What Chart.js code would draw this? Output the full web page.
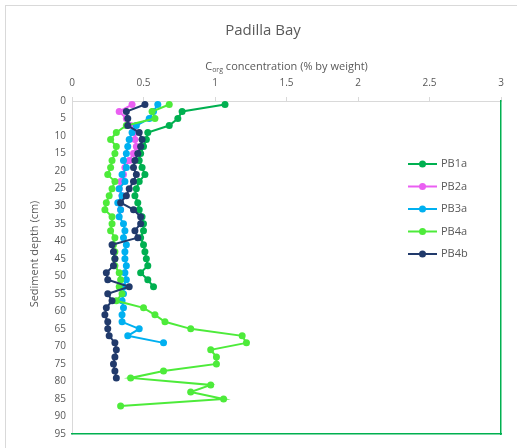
<!DOCTYPE html>
<html>
<head>
<meta charset="utf-8">
<script src="https://cdn.jsdelivr.net/npm/chart.js@4"></script>
<style>
  body { margin: 0; overflow: hidden; background: #fff; }
  #frame { position: absolute; left: 5px; top: 5px; width: 600px; height: 600px; border: 1px solid #d9d9d9; }
  #chart { position: absolute; left: 0; top: 0; }
</style>
</head>
<body>
<div id="frame"></div>
<canvas id="chart" width="517" height="448"></canvas>
<script>
// depth of each sample (cm), shared by all cores
const depths = [1, 3, 5, 7, 9, 11, 13, 15, 17, 19, 21, 23, 25, 27, 29, 31, 33, 35, 37, 39,
    41, 43, 45, 47, 49, 51, 53, 55, 57, 59, 61, 63, 65, 67, 69, 71, 73, 75, 77, 79,
    81, 83, 85, 87];

const seriesNames = ["PB1a", "PB2a", "PB3a", "PB4a", "PB4b"];
const seriesColors = ["#00B050", "#EA5FF2", "#00B0F0", "#4DEB3A", "#213A6B"];

// Corg (% by weight), one value per depth from the top
const pb1a = [1.07, 0.77, 0.74, 0.68, 0.53, 0.52, 0.50, 0.48, 0.47, 0.49, 0.51, 0.47, 0.45, 0.44,
    0.46, 0.47, 0.49, 0.50, 0.50, 0.48, 0.50, 0.51, 0.52, 0.53, 0.48, 0.53, 0.57];
const pb2a = [0.42, 0.33, 0.38, 0.41, 0.44, 0.44, 0.45, 0.43, 0.40, 0.37, 0.36, 0.34, 0.33, 0.35,
    0.33, 0.34];
const pb3a = [0.60, 0.57, 0.54, 0.45, 0.42, 0.40, 0.39, 0.38, 0.36, 0.38, 0.35, 0.37, 0.33, 0.35,
    0.32, 0.34, 0.33, 0.36, 0.37, 0.36, 0.38, 0.37, 0.37, 0.38, 0.37, 0.38, 0.36, 0.36, 0.35, 0.36,
    0.35, 0.35, 0.47, 0.39, 0.64];
const pb4a = [0.68, 0.56, 0.58, 0.38, 0.31, 0.27, 0.31, 0.30, 0.28, 0.27, 0.25, 0.30, 0.28, 0.26,
    0.24, 0.23, 0.28, 0.28, 0.27, 0.30, 0.29, 0.30, 0.30, 0.30, 0.33, 0.34, 0.33, 0.35, 0.31, 0.50,
    0.58, 0.65, 0.83, 1.19, 1.22, 0.97, 1.01, 1.01, 0.64, 0.41, 0.97, 0.83, 1.06, 0.34];
const pb4b = [0.51, 0.38, 0.39, 0.39, 0.47, 0.49, 0.48, 0.46, 0.44, 0.43, 0.45, 0.43, 0.40, 0.38,
    0.34, 0.43, 0.48, 0.48, 0.44, 0.46, 0.28, 0.29, 0.30, 0.29, 0.24, 0.25, 0.40, 0.25, 0.28, 0.24,
    0.23, 0.25, 0.25, 0.26, 0.30, 0.31, 0.30, 0.29, 0.30, 0.31];

const allValues = [pb1a, pb2a, pb3a, pb4a, pb4b];
const grey = "#595959";
const fontFamily = "'Open Sans', sans-serif";

Chart.defaults.font.family = fontFamily;
Chart.defaults.color = grey;

// title, axis titles (with the subscript) and the legend sit inside the plot area
const decorations = {
    id: "decorations",
    afterDraw(chart) {
        const ctx = chart.ctx;
        const area = chart.chartArea;
        ctx.save();
        ctx.fillStyle = grey;
        ctx.textBaseline = "middle";

        ctx.font = "15px " + fontFamily;
        ctx.textAlign = "center";
        ctx.fillText("Padilla Bay", 263, 31);

        // C_org concentration (% by weight)
        const big = "11px " + fontFamily;
        const small = "7px " + fontFamily;
        const rest = " concentration (% by weight)";
        ctx.font = big;
        const wC = ctx.measureText("C").width;
        const wRest = ctx.measureText(rest).width;
        ctx.font = small;
        const wSub = ctx.measureText("org").width;
        let x = (area.left + area.right) / 2 - (wC + wSub + wRest) / 2;
        ctx.textAlign = "left";
        ctx.font = big;
        ctx.fillText("C", x, 67);
        x += wC;
        ctx.font = small;
        ctx.fillText("org", x, 70);
        x += wSub;
        ctx.font = big;
        ctx.fillText(rest, x, 67);

        ctx.save();
        ctx.translate(35, 254);
        ctx.rotate(-Math.PI / 2);
        ctx.textAlign = "center";
        ctx.font = "11px " + fontFamily;
        ctx.fillText("Sediment depth (cm)", 0, 0);
        ctx.restore();

        // legend
        chart.data.datasets.forEach((ds, i) => {
            const y = 164 + i * 22.5;
            ctx.strokeStyle = ds.borderColor;
            ctx.lineWidth = 2;
            ctx.beginPath();
            ctx.moveTo(408, y);
            ctx.lineTo(437, y);
            ctx.stroke();
            ctx.fillStyle = ds.backgroundColor;
            ctx.beginPath();
            ctx.arc(422.5, y, 3.5, 0, Math.PI * 2);
            ctx.fill();
            ctx.fillStyle = grey;
            ctx.font = "11px " + fontFamily;
            ctx.textAlign = "left";
            ctx.fillText(ds.label, 441, y);
        });
        ctx.restore();
    },
};

const datasets = seriesNames.map((name, i) => ({
    label: name,
    data: allValues[i].map((v, k) => ({ x: v, y: depths[k] })),
    borderColor: seriesColors[i],
    backgroundColor: seriesColors[i],
    borderWidth: 2,
    pointRadius: 3.5,
    pointBorderWidth: 0,
    showLine: true,
    order: seriesNames.length - i,
}));

new Chart(document.getElementById("chart"), {
    type: "scatter",
    data: { datasets: datasets },
    options: {
        responsive: false,
        animation: false,
        layout: { padding: { left: 0, top: 0, right: 16, bottom: 14 } },
        plugins: {
            legend: { display: false },
            tooltip: { enabled: false },
        },
        scales: {
            x: {
                type: "linear",
                position: "top",
                min: 0,
                max: 3,
                ticks: {
                    stepSize: 0.5,
                    padding: 8,
                    font: { size: 10 },
                    color: grey,
                    callback: (v) => String(v),
                },
                grid: { drawOnChartArea: false, tickLength: 4, color: "#d9d9d9" },
                border: { color: "#d9d9d9", width: 1 },
                afterFit(scale) { scale.height = 101; },
            },
            y: {
                type: "linear",
                position: "left",
                reverse: true,
                min: 0,
                max: 95,
                ticks: { stepSize: 5, padding: 6, font: { size: 10 }, color: grey },
                grid: { drawOnChartArea: false, drawTicks: false },
                border: { color: "#d9d9d9", width: 1 },
                afterFit(scale) { scale.width = 72; },
            },
            x2: {
                type: "linear",
                position: "bottom",
                min: 0,
                max: 3,
                ticks: { display: false },
                grid: { display: false },
                border: { color: "#00B050", width: 1.5 },
                afterFit(scale) { scale.height = 0; },
            },
            y2: {
                type: "linear",
                position: "right",
                min: 0,
                max: 95,
                ticks: { display: false },
                grid: { display: false },
                border: { color: "#00B050", width: 1.5 },
                afterFit(scale) { scale.width = 0; },
            },
        },
    },
    plugins: [decorations],
});
</script>
</body>
</html>
